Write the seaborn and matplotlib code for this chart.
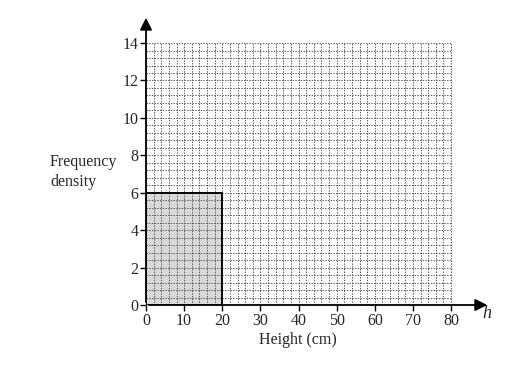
import matplotlib
matplotlib.use("Agg")
import matplotlib.pyplot as plt
import seaborn as sns
import numpy as np

# Data
bin_edges = [0, 20]
class_mid = [10]
freq_density = [6]
x_ticks = [0, 10, 20, 30, 40, 50, 60, 70, 80]
y_ticks = [0, 2, 4, 6, 8, 10, 12, 14]

sns.set_style("white")
plt.rcParams['font.family'] = ['Liberation Serif', 'DejaVu Serif']

fig = plt.figure(figsize=(5.12, 3.74), dpi=100)
ax = fig.add_axes([146/512, 1-305/374, (490-146)/512, (305-15)/374])
ax.set_xlim(0, 90.2)
ax.set_ylim(0, 15.5)

sns.histplot(x=class_mid, weights=freq_density, bins=bin_edges, ax=ax,
             color='#d9d9d9', edgecolor='black', linewidth=1.2, alpha=1.0, zorder=2)

# grid (on top of bar, as on graph paper)
gx = np.arange(0, 80.01, 2)
gy = np.arange(0, 14.01, 0.4)
ax.vlines(gx, 0, 14, colors='#4a4a4a', linestyles=(0, (1.5, 1.5)), linewidth=0.65, zorder=3)
ax.hlines(gy, 0, 80, colors='#4a4a4a', linestyles=(0, (1.5, 1.5)), linewidth=0.65, zorder=3)
# bar outline again on top
ax.plot([0, 0, 20, 20], [0, 6, 6, 0], color='black', lw=1.2, zorder=4)

for s in ax.spines.values():
    s.set_visible(False)
ax.annotate('', xy=(90.2, 0), xytext=(0, 0), xycoords='data',
            arrowprops=dict(arrowstyle='-|>', color='black', lw=1.3, mutation_scale=18), annotation_clip=False)
ax.annotate('', xy=(0, 15.5), xytext=(0, 0), xycoords='data',
            arrowprops=dict(arrowstyle='-|>', color='black', lw=1.3, mutation_scale=18), annotation_clip=False)

ax.set_xticks(x_ticks)
ax.set_yticks(y_ticks)
ax.set_xticklabels([str(v) for v in x_ticks])
ax.set_yticklabels([str(v) for v in y_ticks])
ax.tick_params(axis='both', direction='out', length=4, width=1, color='black', labelsize=11.5, pad=1.5,
               bottom=True, left=True)
ax.set_xlabel('')
ax.set_ylabel('')

fig.text(298/512, 1-340/374, 'Height (cm)', ha='center', va='center', fontsize=11.5)
fig.text(50/512, 1-172/374, 'Frequency\ndensity', ha='left', va='center', fontsize=11.5, linespacing=1.4)
fig.text(487/512, 1-313/374, 'h', ha='center', va='center', fontsize=13, style='italic')

fig.savefig('out.png', dpi=100)
